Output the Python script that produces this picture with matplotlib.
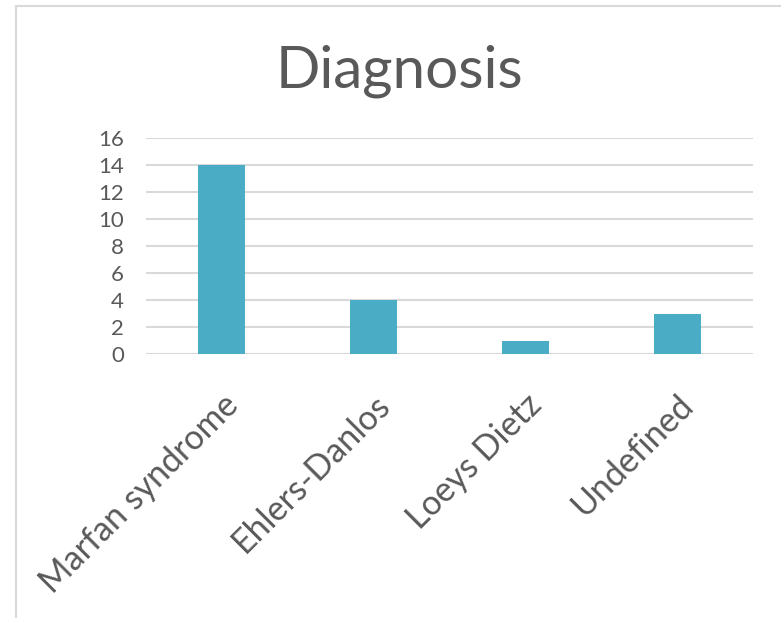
import matplotlib.pyplot as plt
from matplotlib.lines import Line2D

# Data
categories = ['Marfan syndrome', 'Ehlers-Danlos', 'Loeys Dietz', 'Undefined']
counts = [14, 4, 1, 3]
yticks = [0, 2, 4, 6, 8, 10, 12, 14, 16]

plt.rcParams['font.family'] = ['Lato', 'DejaVu Sans']

fig = plt.figure(figsize=(7.81, 6.18), dpi=100)
ax = fig.add_axes([0.187, 0.427, 0.777, 0.350])

x = range(len(categories))
ax.bar(x, counts, width=0.31, color='#4bacc6', zorder=3)

ax.set_xlim(-0.5, len(categories) - 0.5)
ax.set_ylim(0, 16)
ax.set_yticks(yticks)
ax.set_xticks(list(x))
ax.set_xticklabels(categories, rotation=45, ha='right', va='top',
                   rotation_mode='anchor', fontsize=24.5, color='#595959')
ax.tick_params(axis='y', labelsize=16, labelcolor='#595959', length=0, pad=16)
ax.tick_params(axis='x', length=0, pad=25)
ax.grid(axis='y', color='#d9d9d9', linewidth=1.5, zorder=0)
for s in ax.spines.values():
    s.set_visible(False)

fig.text(0.512, 0.885, 'Diagnosis', ha='center', va='center', fontsize=42, color='#595959')

# chart area frame (cut off at right and bottom)
fig.add_artist(Line2D([0.021, 1.0], [0.990, 0.990], color='#d9d9d9', linewidth=1.5))
fig.add_artist(Line2D([0.021, 0.021], [0.0, 0.990], color='#d9d9d9', linewidth=1.5))

plt.savefig('out.png', dpi=100)
